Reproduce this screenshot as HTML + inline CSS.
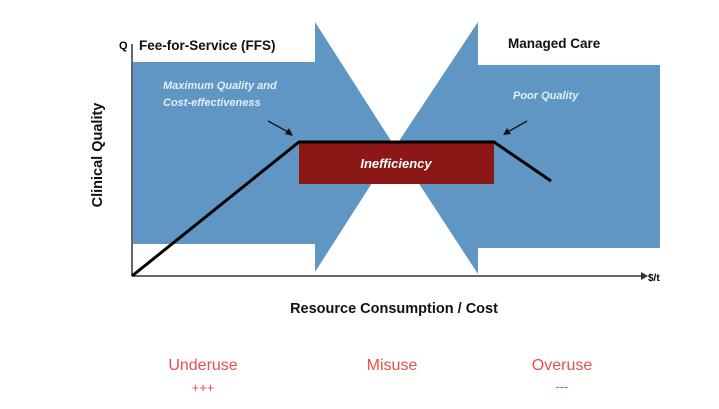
<!DOCTYPE html>
<html><head><style>html,body{margin:0;padding:0;background:#fff;width:719px;height:409px;overflow:hidden}</style></head>
<body>
<svg width="719" height="409" viewBox="0 0 719 409" xmlns="http://www.w3.org/2000/svg" font-family="Liberation Sans, Arial, sans-serif">
<polygon points="133,62 315,62 315,22 395,147 315,272 315,244 133,244" fill="#5f96c3"/>
<polygon points="660,65 478,65 478,22 395,147 478,274 478,248 660,248" fill="#5f96c3"/>
<rect x="299" y="142" width="195" height="42" fill="#8b1717"/>
<text x="396" y="168" fill="#fff" font-size="13" font-weight="bold" font-style="italic" text-anchor="middle">Inefficiency</text>
<line x1="132" y1="44" x2="132" y2="276" stroke="#333" stroke-width="1.5"/>
<line x1="132" y1="276" x2="642" y2="276" stroke="#333" stroke-width="1.5"/>
<polygon points="641,272 648,276 641,280" fill="#333"/>
<polyline points="132,276 299,142 494,142 551,181" fill="none" stroke="#000" stroke-width="3"/>
<text x="119" y="49" font-size="11" font-weight="bold">Q</text>
<rect x="135" y="30" width="175" height="28" fill="#fff"/>
<text x="139" y="50" font-size="13.5" font-weight="bold" fill="#111">Fee-for-Service (FFS)</text>
<text x="508" y="48" font-size="13.5" font-weight="bold" fill="#111">Managed Care</text>
<text x="163" y="89" font-size="11" font-weight="bold" font-style="italic" fill="#e4eef7">Maximum Quality and</text>
<text x="163" y="106" font-size="11" font-weight="bold" font-style="italic" fill="#e4eef7">Cost-effectiveness</text>
<text x="513" y="99" font-size="11" font-weight="bold" font-style="italic" fill="#e4eef7">Poor Quality</text>
<line x1="268" y1="121" x2="290" y2="133" stroke="#111" stroke-width="1.3"/>
<polygon points="293,136 285,134 289,128" fill="#111"/>
<line x1="527" y1="121" x2="506" y2="133" stroke="#111" stroke-width="1.3"/>
<polygon points="503,135 507,128 511,134" fill="#111"/>
<text x="648" y="281" font-size="10" font-weight="bold">$/t</text>
<text transform="translate(102,155) rotate(-90)" font-size="14.5" font-weight="bold" text-anchor="middle" fill="#111">Clinical Quality</text>
<text x="394" y="313" font-size="14.5" font-weight="bold" text-anchor="middle" fill="#111">Resource Consumption / Cost</text>
<text x="203" y="370" font-size="16" text-anchor="middle" fill="#e8514a">Underuse</text>
<text x="203" y="392" font-size="13" text-anchor="middle" fill="#e8514a">+++</text>
<text x="392" y="370" font-size="16" text-anchor="middle" fill="#e8514a">Misuse</text>
<text x="562" y="370" font-size="16" text-anchor="middle" fill="#e8514a">Overuse</text>
<text x="562" y="391" font-size="13" text-anchor="middle" fill="#e8514a">---</text>
</svg>
</body></html>
